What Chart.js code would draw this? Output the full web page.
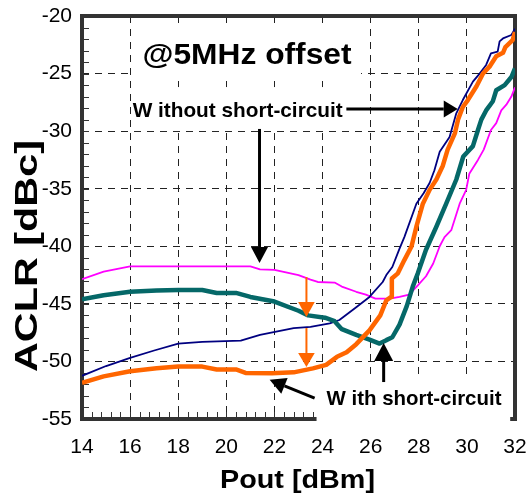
<!DOCTYPE html>
<html>
<head>
<meta charset="utf-8">
<script src="https://cdn.jsdelivr.net/npm/chart.js@4"></script>
<style>
  html, body { margin: 0; padding: 0; background: #fff; }
  #wrap { width: 528px; height: 497px; }
</style>
</head>
<body>
<div id="wrap"><canvas id="aclr" width="528" height="497"></canvas></div>
<script>
// ─── Data ───────────────────────────────────────────────────

const poutTicks = [14, 16, 18, 20, 22, 24, 26, 28, 30, 32];
const aclrTicks = [-55, -50, -45, -40, -35, -30, -25, -20];

// thin navy: without short-circuit
const navyX = [14, 15, 16, 17, 18, 19, 20.6, 21.4, 22.8, 23.5, 24.3, 24.7, 25.4, 25.95, 26.5, 26.65, 26.9, 27.2, 27.4, 27.9, 28.2, 28.45, 28.65, 28.87, 29.28, 29.56, 29.83, 30.25, 30.53, 30.8, 31.0, 31.28, 31.36, 31.5, 31.85, 32];
const navyY = [-51.25, -50.4, -49.7, -49.05, -48.45, -48.3, -48.2, -47.7, -47.1, -47.0, -46.7, -46.4, -45.3, -44.4, -43.1, -42.5, -41.8, -40.2, -39.2, -36.3, -35.4, -34.5, -33.4, -31.8, -30.5, -28.45, -27.3, -25.7, -25.0, -24.25, -23.25, -23.1, -22.2, -21.95, -21.65, -21.1];

// thin magenta: without short-circuit
const magentaX = [14, 14.9, 16, 21, 21.4, 22, 23, 23.5, 23.8, 24.5, 24.8, 25.4, 25.8, 26.2, 26.8, 27.2, 27.6, 27.96, 28.3, 28.6, 28.87, 29.07, 29.35, 29.7, 29.97, 30.1, 30.46, 30.7, 31.0, 31.22, 31.43, 31.64, 31.85, 32];
const magentaY = [-42.85, -42.2, -41.75, -41.75, -42.0, -42.05, -42.5, -42.9, -43.1, -43.15, -43.5, -43.95, -44.2, -44.55, -44.55, -44.4, -44.2, -43.4, -42.6, -41.5, -40.0, -39.2, -38.6, -36.3, -35.1, -33.7, -32.5, -31.6, -29.9, -29.3, -28.2, -27.7, -27.0, -26.2];

// thick orange: with short-circuit
const orangeX = [14, 14.9, 16, 17.1, 18, 19, 19.6, 20.4, 20.8, 21.9, 22.8, 23.6, 24.15, 24.6, 25.0, 25.4, 25.95, 26.4, 26.65, 26.85, 26.88, 27.13, 27.4, 27.7, 27.9, 28.17, 28.45, 28.73, 29.0, 29.2, 29.5, 29.63, 29.83, 30.04, 30.4, 30.67, 30.94, 31.22, 31.5, 31.6, 31.9, 32];
const orangeY = [-51.85, -51.3, -50.85, -50.6, -50.45, -50.45, -50.7, -50.7, -51.0, -51.03, -50.95, -50.6, -50.3, -49.6, -49.2, -48.5, -47.3, -46.0, -44.7, -44.4, -42.8, -42.35, -41.2, -40.0, -38.3, -36.3, -35.1, -34.2, -33.0, -31.6, -30.2, -29.0, -27.9, -27.3, -26.1, -25.0, -24.4, -23.5, -23.2, -22.7, -22.1, -21.4];

// thick teal: with short-circuit
const tealX = [14, 14.9, 16, 17.1, 18, 19, 19.6, 20.4, 21, 22, 23, 23.4, 24.1, 24.5, 24.8, 25.4, 25.95, 26.37, 26.65, 26.9, 27.2, 27.5, 27.75, 27.96, 28.3, 28.73, 29.14, 29.56, 29.85, 30.25, 30.46, 30.6, 30.8, 31.08, 31.22, 31.57, 31.85, 32];
const tealY = [-44.6, -44.25, -43.95, -43.85, -43.8, -43.8, -44.05, -44.05, -44.4, -44.8, -45.6, -46.0, -46.2, -46.5, -47.2, -47.7, -48.1, -48.45, -48.15, -47.9, -46.8, -45.2, -43.5, -42.35, -40.3, -38.3, -36.3, -34.2, -32.2, -31.3, -29.9, -29.0, -28.2, -27.4, -26.45, -26.0, -25.3, -24.55];

// ─── Annotations (data units) ───────────────────────────────

const FONT = '"Liberation Sans", Arial, Helvetica, sans-serif';

const whiteBoxes = [
  { x0: 16.1, x1: 25.6, y0: -20.7, y1: -25.55 },
  { x0: 16.1, x1: 25.33, y0: -26.17, y1: -29.99 },
  { x0: 23.75, x1: 31.8, y0: -51.4, y1: -55.45 },
];

const labels = [
  { text: '@5MHz offset', x: 20.86, y: -24.17, size: 30, width: 209 },
  { text: 'W ithout short-circuit', x: 20.47, y: -28.77, size: 20.5, width: 210 },
  { text: 'W ith short-circuit', x: 27.8, y: -53.78, size: 21, width: 175 },
];

const arrows = [
  { x1: 24.99, y1: -28.08, x2: 29.62, y2: -28.08, color: '#000', lw: 3, len: 14, half: 8.5 },
  { x1: 21.38, y1: -29.81, x2: 21.38, y2: -41.45, color: '#000', lw: 3, len: 16, half: 8.5 },
  { x1: 23.67, y1: -53.18, x2: 21.8, y2: -51.6, color: '#000', lw: 3, len: 16, half: 8.5 },
  { x1: 26.54, y1: -51.79, x2: 26.54, y2: -48.4, color: '#000', lw: 3, len: 18, half: 9.5 },
  { x1: 23.33, y1: -42.67, x2: 23.33, y2: -46.14, color: '#ff6600', lw: 2, len: 15, half: 8.3 },
  { x1: 23.33, y1: -47.1, x2: 23.33, y2: -50.48, color: '#ff6600', lw: 2, len: 14, half: 8.3 },
];

// ─── Helpers ────────────────────────────────────────────────

function pts(xs, ys) {
  return xs.map((x, i) => ({ x, y: ys[i] }));
}

function drawArrow(ctx, x1, y1, x2, y2, color, lw, len, half) {
  const a = Math.atan2(y2 - y1, x2 - x1);
  const bx = x2 - len * Math.cos(a);
  const by = y2 - len * Math.sin(a);
  ctx.save();
  ctx.strokeStyle = color;
  ctx.fillStyle = color;
  ctx.lineWidth = lw;
  ctx.beginPath();
  ctx.moveTo(x1, y1);
  ctx.lineTo(bx, by);
  ctx.stroke();
  ctx.beginPath();
  ctx.moveTo(x2, y2);
  ctx.lineTo(bx + half * Math.sin(a), by - half * Math.cos(a));
  ctx.lineTo(bx - half * Math.sin(a), by + half * Math.cos(a));
  ctx.closePath();
  ctx.fill();
  ctx.restore();
}

// bold text stretched to the width it has in the figure
function fitText(ctx, str, x, y, size, width, rotate) {
  ctx.save();
  ctx.font = `bold ${size}px ${FONT}`;
  ctx.fillStyle = '#000';
  ctx.textAlign = 'center';
  ctx.textBaseline = 'alphabetic';
  const sx = width / ctx.measureText(str).width;
  ctx.translate(x, y);
  if (rotate) ctx.rotate(-Math.PI / 2);
  ctx.scale(sx, 1);
  ctx.fillText(str, 0, 0);
  ctx.restore();
}

// ─── Plugin: frame, minor ticks, boxes, labels ──────────────

const decorations = {
  id: 'decorations',
  beforeDatasetsDraw(chart) {
    const { ctx, chartArea: ca, scales: { x, y } } = chart;
    ctx.save();
    // minor ticks
    ctx.strokeStyle = '#333';
    ctx.lineWidth = 1;
    ctx.beginPath();
    for (let v = -54; v <= -21; v++) {
      const py = Math.round(y.getPixelForValue(v)) + 0.5;
      ctx.moveTo(ca.left, py);
      ctx.lineTo(ca.left + 7, py);
    }
    for (let i = 1; i < 45; i++) {
      const px = Math.round(x.getPixelForValue(14 + i * 0.4)) + 0.5;
      ctx.moveTo(px, ca.bottom);
      ctx.lineTo(px, ca.bottom - 7);
    }
    ctx.stroke();
    // frame
    ctx.strokeStyle = '#333';
    ctx.lineWidth = 4;
    ctx.strokeRect(ca.left, ca.top, ca.right - ca.left, ca.bottom - ca.top);
    // white label boxes
    ctx.fillStyle = '#fff';
    whiteBoxes.forEach(b => {
      const l = x.getPixelForValue(b.x0), r = x.getPixelForValue(b.x1);
      const t = y.getPixelForValue(b.y0), btm = y.getPixelForValue(b.y1);
      ctx.fillRect(l, t, r - l, btm - t);
    });
    ctx.restore();
  },
  afterDatasetsDraw(chart) {
    const { ctx, chartArea: ca, scales: { x, y } } = chart;
    labels.forEach(l => {
      fitText(ctx, l.text, x.getPixelForValue(l.x), y.getPixelForValue(l.y), l.size, l.width);
    });
    arrows.forEach(a => {
      drawArrow(ctx, x.getPixelForValue(a.x1), y.getPixelForValue(a.y1),
        x.getPixelForValue(a.x2), y.getPixelForValue(a.y2), a.color, a.lw, a.len, a.half);
    });
    // axis titles
    fitText(ctx, 'Pout [dBm]', 297.5, ca.bottom + 69, 25, 155);
    fitText(ctx, 'ACLR [dBc]', 37, ca.top + 240, 32, 232, true);
  },
};

// ─── Chart ──────────────────────────────────────────────────

function line(data, color, width, order) {
  return {
    data,
    borderColor: color,
    borderWidth: width,
    pointRadius: 0,
    tension: 0,
    fill: false,
    order,
    borderJoinStyle: 'round',
  };
}

new Chart(document.getElementById('aclr'), {
  type: 'line',
  data: {
    datasets: [
      line(pts(orangeX, orangeY), '#ff6600', 4.5, 0),
      line(pts(tealX, tealY), '#056868', 4.5, 1),
      line(pts(navyX, navyY), '#000080', 1.8, 2),
      line(pts(magentaX, magentaY), '#ff00ff', 1.8, 3),
    ],
  },
  options: {
    responsive: false,
    animation: false,
    devicePixelRatio: 1,
    layout: { padding: { left: 0, right: 13, top: 16, bottom: 0 } },
    plugins: { legend: { display: false }, tooltip: { enabled: false } },
    scales: {
      x: {
        type: 'linear',
        min: 14,
        max: 32,
        afterBuildTicks: s => { s.ticks = poutTicks.map(v => ({ value: v })); },
        afterFit: s => { s.height = 78; s.paddingLeft = 0; s.paddingRight = 0; },
        grid: { color: '#222', lineWidth: 1, drawTicks: false },
        border: { display: false, dash: [7, 6] },
        ticks: { color: '#000', padding: 16, font: { family: FONT, size: 21 }, maxRotation: 0 },
      },
      y: {
        type: 'linear',
        min: -55,
        max: -20,
        afterBuildTicks: s => { s.ticks = aclrTicks.map(v => ({ value: v })); },
        afterFit: s => { s.width = 82; s.paddingTop = 0; s.paddingBottom = 0; },
        grid: { color: '#222', lineWidth: 1, drawTicks: false },
        border: { display: false, dash: [7, 6] },
        ticks: { color: '#000', padding: 10, font: { family: FONT, size: 21 } },
      },
    },
  },
  plugins: [decorations],
});
</script>
</body>
</html>
